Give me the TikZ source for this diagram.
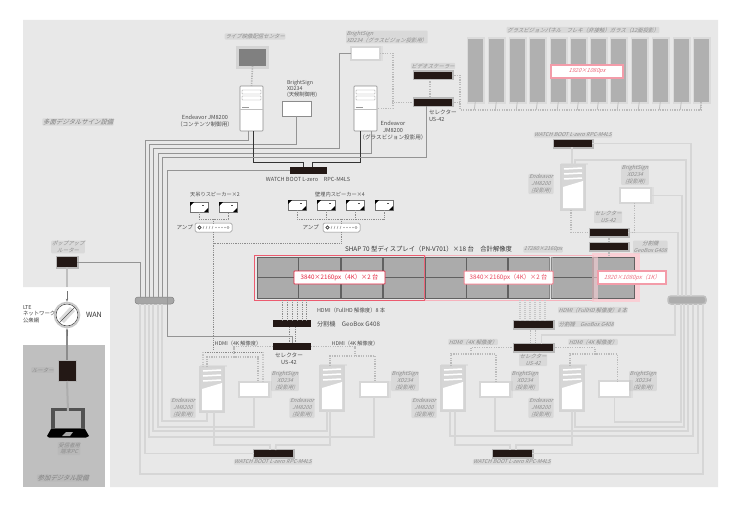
\documentclass[tikz,border=0pt]{standalone}
\usepackage{fontspec}
\setmainfont{Noto Sans CJK JP}
\newfontfamily\blurfont[FakeSlant=0.35]{Noto Sans CJK JP}
\usetikzlibrary{arrows.meta,calc}
\definecolor{bgc}{HTML}{E8E8E8}
\definecolor{inkc}{HTML}{231815}
\definecolor{redc}{HTML}{E5243F}
\definecolor{softc}{HTML}{D6D6D6}
\tikzset{
  txt/.style={inner sep=0pt,outer sep=0pt,align=center,text=black!70,font=\fontsize{5.6}{7}\selectfont},
  smear/.style={inner sep=.6pt,outer sep=0pt,align=center,text=black!45,fill=black!35,fill opacity=.22,text opacity=1,rounded corners=1pt,font=\blurfont\fontsize{5.4}{6.8}\selectfont},
  smearbig/.style={smear,font=\blurfont\fontsize{6.4}{7.5}\selectfont,text=black!50},
  linkA/.style={draw=black!42,line width=.55pt},
  linkB/.style={draw=softc,line width=1.7pt},
  blackl/.style={draw=black!80,line width=.7pt},
  dotl/.style={draw=black!45,line width=.6pt,dash pattern=on .9pt off .9pt},
  dashB/.style={draw=black!27,line width=1.6pt,dash pattern=on 1.2pt off 1.2pt},
  swbox/.style={fill=inkc,draw=none},
  srvA/.style={fill=white,draw=black!45,line width=.6pt,rounded corners=.8pt},
  srvB/.style={fill=softc,draw=black!17,line width=1.2pt},
  bsA/.style={fill=white,draw=black!45,line width=.6pt},
  bsB/.style={fill=white,draw=softc,line width=2pt},
  panelg/.style={fill=black!33,draw=black!62,line width=.5pt},
  glassp/.style={fill=black!31,draw=none},
  redlab/.style={fill=white,draw=redc,line width=.6pt,rounded corners=.6pt},
  redblur/.style={fill=white,draw=redc!45,line width=1.2pt},
}
\newcommand{\elem}[6][]{%
  \pgfmathsetmacro\elcx{((#3)+(#5))/2}%
  \pgfmathsetmacro\elcy{((#4)+(#6))/2}%
  \pgfmathsetmacro\elw{(#5)-(#3)}%
  \pgfmathsetmacro\elh{(#6)-(#4)}%
  \node[#1,minimum width=\elw pt,minimum height=\elh pt,inner sep=0pt,outer sep=0pt] (#2) at (\elcx,\elcy) {};}
% crisp tower
\newcommand{\towerA}[3]{%
  \elem[srvA]{#1}{#2}{#3}{(#2)+23}{(#3)+45}%
  \draw[black!40,line width=.4pt,rounded corners=.5pt] ([shift={(2,4)}]#1.north west) rectangle ++(19,4);
  \draw[black!40,line width=.4pt,rounded corners=.5pt] ([shift={(2,10)}]#1.north west) rectangle ++(19,4);
  \draw[black!40,line width=.4pt] ([shift={(2,21)}]#1.north west) -- ++(7,0);
  \draw[black!25,line width=.3pt] ([shift={(0,23)}]#1.north west) -- ++(23,0);}
% blurred tower
\newcommand{\towerB}[3]{%
  \fill[black!13] ({#2},{#3}) rectangle ++(27,-2);
  \elem[srvB]{#1}{#2}{#3}{(#2)+24}{(#3)+45}%
  \fill[white] ([shift={(2,22)}]#1.north west) -- ++(20,-6) -- ([shift={(22,43)}]#1.north west) -- ++(-20,0) -- cycle;
  \foreach \q in {4,9,14}{\draw[white,line width=1.5pt] ([shift={(3,\q)}]#1.north west) -- ++(18,-1);}}
% blurred BrightSign box
\newcommand{\bsBlur}[5]{%
  \fill[black!13] ({(#2)-1},{(#3)-1}) rectangle ({(#4)+3},{(#5)+1});
  \elem[bsB]{#1}{#2}{#3}{#4}{#5}}
% black box with halo
\newcommand{\swBlur}[5]{%
  \fill[black!28] ({(#2)-1},{(#3)-1.5}) rectangle ({(#4)+2},{(#5)+1.5});
  \elem[swbox]{#1}{#2}{#3}{#4}{#5}}
% speaker
\newcommand{\speaker}[3]{%
  \elem[fill=white,draw=black!55,line width=.6pt]{#1}{#2}{#3}{(#2)+18}{(#3)+10}%
  \fill[black] (#1.north west) -- ++(4,0) -- ++(-4,4) -- cycle;
  \fill[black] (#1.south east) -- ++(-4,0) -- ++(4,-4) -- cycle;
  \draw[black!70,line width=.6pt] ([shift={(-6,3.5)}]#1.north east) -- ++(2,0);}
% amplifier
\newcommand{\ampl}[3]{%
  \elem[fill=white,draw=black!45,line width=.5pt,rounded corners=1.5pt]{#1}{#2}{#3}{(#2)+37}{(#3)+9}%
  \draw[black!75,line width=.8pt] ([shift={(4.5,4.5)}]#1.north west) circle (1.6);
  \foreach \q in {9,12,15,18}{\draw[black!40,line width=.5pt] ([shift={(\q,3)}]#1.north west) -- ++(-1,3);}
  \foreach \q in {21,24,27,30}{\fill[black!55] ([shift={(\q,4.5)}]#1.north west) circle (.55);}
  \draw[black!50,line width=.3pt] ([shift={(33,4.5)}]#1.north west) circle (1.1);}
\begin{document}
\begin{tikzpicture}[x=1pt,y=-1pt]
\useasboundingbox (0,0) rectangle (738,508);
\fill[white] (0,0) rectangle (738,508);
\fill[bgc] (23,20) -- (718,20) -- (718,487) -- (110,487) -- (110,287) -- (23,287) -- cycle;
\fill[black!25] (23,345) rectangle (105,487);

% ---------- top left
\elem[fill=black!17,draw=none]{mon}{236}{46}{269}{69}
\elem[fill=black!50,draw=none]{moni}{239}{49}{266}{66}
\towerA{srvU}{240}{86}
\towerA{srvG}{354}{86}
\elem[bsA]{bsU}{282}{101}{311}{116}
\bsBlur{bsT}{351}{47}{380}{60}
\elem[swbox]{swT}{290}{167}{327}{174}
\elem[fill=black!35,draw=black!50,line width=.5pt,rounded corners=3pt]{pillL}{135}{297}{174}{304}
\elem[fill=black!32,draw=black!25,line width=1.5pt,rounded corners=3pt]{pillR}{668}{296}{706}{304}
\elem[swbox]{splL}{273}{320}{311}{327}
\elem[swbox]{selL}{273}{343}{311}{350}

% ---------- trunks, upper left
\draw[dashB,draw=black!30] (moni.south) -- (srvU.north);
\draw[linkA] ([xshift=-3]srvU.south) |- (145,140) -- ([xshift=-9.5]pillL.north);
\draw[linkA] (bsU.south) |- (149,144) -- ([xshift=-5.5]pillL.north);
\draw[linkA] (bsT.west) -| (339,148) -- (153,148) -- ([xshift=-1.5]pillL.north);
\draw[linkA] ([xshift=6]srvG.south) |- (158,153) -- ([xshift=3.5]pillL.north);
\draw[blackl] ([xshift=2]srvU.south) -- ++(0,31) -| ([xshift=-5]swT.north);
\draw[blackl] ([xshift=-5]srvG.south) -- ++(0,31) -| ([xshift=4]swT.north);

% ---------- top right selector / panels
\swBlur{selS}{414}{72}{452}{79}
\swBlur{selG}{414}{99}{452}{106}
\draw[linkA] (selG.south) ++(-7,0) -- (426,157) -- (162,157) -- ([xshift=7.5]pillL.north);
\draw[linkA] (swT.west) -- (167,170.5) -- (167,336) -| (selL.north);
\draw[dashB] (selS.south) ++(-3,0) -- ([xshift=-3]selG.north);
\draw[dashB] (selG.west) -- (392,102.5);
\draw[dashB] (bsT.east) -| (393,108.5) -- (srvG.east);
\foreach \i/\a in {1/468,2/489,3/510,4/530,5/551,6/571,7/591,8/611,9/632,10/653,11/674,12/694}{
  \fill[black!14] (\a-1,37) rectangle (\a+16.5,104);
  \elem[glassp]{gp\i}{\a}{39}{(\a)+14.5}{102}
  \draw[black!25,line width=.8pt] (gp\i.south) -- ++(-1,8);
}
\draw[dashB] (selS.east) -- (460,75.5) -- (460,110) -| (gp12.south);
\draw[dashB] (selG.east) -- (460,102.5);
\elem[redblur]{glab}{551}{65}{623}{78}
\node[smear,text=redc!70,fill=none,font=\blurfont\fontsize{5.6}{7}\selectfont] (glabt) at (glab) {1920×1080px};

% ---------- speakers and amps
\speaker{spA}{190}{202}\speaker{spB}{219}{202}
\speaker{spC}{288}{200}\speaker{spD}{317}{200}\speaker{spE}{346}{200}\speaker{spF}{375}{200}
\ampl{ampA}{195}{223}\ampl{ampB}{323}{223}
\draw[dotl] (spA.south) |- (213.5,219) -| (spB.south);
\draw[dotl] (213.5,219) -- (ampA.north);
\draw[dotl] (spC.south) |- (384,219) -- (spF.south);
\draw[dotl] (spD.south) -- (326,219);
\draw[dotl] (spE.south) -- (355,219);
\draw[dotl] (341.5,219) -- (ampB.north);
\draw[dotl] (ampA.south) -- (213.5,350);
\draw[dotl] (ampB.south) -- (341.5,243) -- (213.5,243);

% ---------- display wall
\fill[redc!22] (592,253) rectangle (640,302);
\draw[redc!35,line width=1pt] (425,255) rectangle (593,300);
\foreach \i/\a in {1/257,2/298.5,3/341,4/383,5/425.5,6/466,7/508,8/551,9/593}{
  \elem[panelg]{pu\i}{\a}{257.5}{(\a)+41.5}{277}
  \elem[panelg]{pd\i}{\a}{277}{(\a)+41.5}{298}
}
\fill[redc!22,opacity=.6] (592,253) rectangle (598,302);
\fill[black!20,opacity=.35] (549,257) rectangle (553,298);
\draw[redc!75,line width=.8pt] (254.5,255) rectangle (424,300);
\draw[redc!70,line width=.8pt] (424.8,255) -- (424.8,300);
\elem[redlab]{labA}{294}{271}{385}{284}
\node[txt,text=redc,font=\fontsize{6.2}{7}\selectfont] (labAt) at (labA) {3840×2160px（4K）×2 台};
\elem[redlab,draw=redc!55,line width=1pt]{labB}{464}{271}{553}{284}
\node[txt,text=redc!85,font=\fontsize{6.2}{7}\selectfont] (labBt) at (labB) {3840×2160px（4K）×2 台};
\elem[redblur]{labC}{598}{271}{666}{284}
\node[txt,text=redc!65,font=\blurfont\fontsize{5.8}{7}\selectfont] (labCt) at (labC) {1920×1080px（1K）};

% ---------- splitter + selector
\swBlur{splR}{514}{321}{553}{328}
\swBlur{selR}{514}{344}{553}{351}
\foreach \q/\x in {a/282,b/287,c/292,d/297,e/302,f/306}{
  \coordinate (sla\q) at (\x,300);
  \draw[dotl] (sla\q) -- (splL.north -| sla\q);
}
\draw[dotl] (289,327) -- (289,343);
\draw[dotl] (295,327) -- (295,343);
\foreach \q/\x in {a/520,b/525,c/530,d/535,e/540,f/545}{
  \coordinate (slb\q) at (\x,300);
  \draw[black!22,line width=1.2pt,dash pattern=on 1pt off 1pt] (slb\q) -- (splR.north -| slb\q);
}
\draw[dashB] (splR.south) ++(-3,0) -- ([xshift=-3]selR.north);
\draw[dashB] (splR.south) ++(2,0) -- ([xshift=2]selR.north);

% ---------- lower row
\towerB{sA}{200}{367}
\towerB{sC}{320}{366}
\towerB{sE}{441}{366}
\towerB{sG}{560}{366}
\bsBlur{bA}{239}{382}{269}{397}
\bsBlur{bD}{360}{382}{388}{397}
\bsBlur{bF}{480}{382}{510}{397}
\bsBlur{bH}{599}{381}{630}{397}
\swBlur{swL}{254}{450}{293}{457}
\swBlur{swR}{493}{450}{532}{457}

% ---------- selector dashes, lower row
\draw[dashB] (selL.west) -- (234,346.5) -- (234,357);
\draw[dotl] (203,352) -- (263,352);
\draw[dashB,draw=black!22] (203,352) -- (203,367);
\draw[dashB,draw=black!22] (263,352) -- (263,382);
\draw[dashB] ([xshift=-5]sA.north) |- (234,357) -| ([xshift=4]bA.north);
\draw[dashB] (selL.east) -- (355,346.5) -- (355,356);
\draw[dashB] ([xshift=-2]sC.north) |- (355,356) -| ([xshift=1]bD.north);
\draw[dashB] (selR.west) -- (471,347.5) -- (471,354);
\draw[dashB] ([xshift=-2]sE.north) |- (471,354) -| ([xshift=1]bF.north);
\draw[dashB] (selR.east) -- (595,347.5) -- (595,354);
\draw[dashB] ([xshift=-2]sG.north) |- (595,354) -| ([xshift=3]bH.north);

% ---------- lower bundles
\draw[linkB] ([xshift=-14.5]pillL.south) -- (140,474) -- (703,474) -- ([xshift=16]pillR.south);
\draw[linkB] ([xshift=-9.5]pillL.south) |- (swL.west);
\draw[linkB] ([xshift=-5.5]pillL.south) -- (149,437) -| (bD.south);
\draw[linkB] ([xshift=-1.5]pillL.south) -- (153,431) -| ([xshift=-5]sC.south);
\draw[linkB] ([xshift=3.5]pillL.south) -- (158,427) -| (bA.south);
\draw[linkB] ([xshift=7.5]pillL.south) -- (162,421) -| ([xshift=-5]sA.south);
\draw[linkB] ([xshift=2]sA.south) -- (214,445) -- (270,445) -- ([xshift=-3.5]swL.north);
\draw[linkB] ([xshift=-2]sC.south) -- (330,445) -- (276,445) -- ([xshift=2]swL.north);
\draw[linkB] ([xshift=2]sE.south) -- (455,445) -- (510,445) -- ([xshift=-2.5]swR.north);
\draw[linkB] (sG.south) -- (572,445) -- (516,445) -- ([xshift=3.5]swR.north);
\draw[linkB] (bH.south) |- (681,422) -- ([xshift=-6]pillR.south);
\draw[linkB] ([xshift=3]sG.south) |- (684,427) -- ([xshift=-3]pillR.south);
\draw[linkB] (bF.south) |- (688,431) -- ([xshift=1]pillR.south);
\draw[linkB] ([xshift=-3]sE.south) |- (693,436) -- ([xshift=6]pillR.south);
\draw[linkB] (swR.east) -| ([xshift=11]pillR.south);
\draw[linkB] (selR.north) ++(8,0) -- (541.5,335) -- (675,335) -- ([xshift=-12]pillR.south);

% ---------- right upper group
\swBlur{swU}{554}{140}{592}{147}
\towerB{sR}{561}{165}
\bsBlur{bR}{620}{188}{651}{203}
\swBlur{selRa}{590}{229}{628}{236}
\swBlur{selRb}{590}{243}{628}{250}
\draw[linkB] ([xshift=-1]swU.south) -- ([xshift=-1]swU.south |- sR.north);
\draw[linkB] (swU.east) -- (691,143.5) -- ([xshift=4]pillR.north);
\draw[linkB] ([xshift=2]sR.north) |- (686,160) -- ([xshift=-1]pillR.north);
\draw[linkB] (bR.east) -- (682,195.5) -- ([xshift=-5]pillR.north);
\draw[linkB] (selRa.east) -- (678,232.5) -- ([xshift=-9]pillR.north);
\draw[dashB] ([xshift=-2]sR.south) |- (selRa.west);
\draw[dashB] (bR.south) ++(-1,0) |- (selRa.east);
\draw[dashB] (selRa.south) -- (selRb.north);
\draw[dashB] (selRb.south) -- (609,255);

% ---------- WAN side
\swBlur{rtr}{57}{257}{77}{267}
\draw[linkA] (rtr.east) -- (140,262) -- ([xshift=-14.5]pillL.north);
\node[circle,fill=white,draw=black!22,line width=1.6pt,minimum size=25pt,inner sep=0pt] (wan) at (67,315) {};
\node[circle,draw=black!70,line width=.6pt,minimum size=22pt,inner sep=0pt] (wani) at (67,315) {};
\fill[black!14] (wani.center) ++(-8,4) -- ++(11,-12) -- ++(5,4) -- ++(-11,12) -- cycle;
\draw[black!70,line width=.6pt] (wani.south west) -- (wani.north east);
\elem[fill=inkc,draw=black!30,line width=.5pt]{mdm}{58}{360}{76}{381}
\draw[black!25,line width=1.4pt] (rtr.south) -- ++(0,20);
\draw[black!55,line width=.4pt,-{Stealth[length=3pt]}] (67,291) -- (wan.north);
\draw[black!45,line width=1.2pt] (mdm.north) -- (67,331);
\draw[black!55,line width=.4pt,-{Stealth[length=3pt]}] (67,336) -- (wan.south);
% laptop
\path[fill=black!68] (51,408) rectangle (85,430);
\elem[fill=black!27,draw=none]{lap}{55}{411}{81}{428}
\draw[black!32,line width=2pt] (mdm.south) -- (lap.north);
\fill[black] (51,429) -- (85,429) -- (89,436) -- (86,437.5) -- (49,437.5) -- (47,436) -- cycle;
\fill[black!35] (62,436) -- (66,432) -- (73,432) -- (70,436) -- cycle;

% ---------- readable labels
\node[txt,font=\fontsize{5.4}{6.4}\selectfont,align=left,anchor=west,text=black!75] (tLte) at (23,314) {LTE\\ネットワーク\\公衆網};
\node[txt,font=\fontsize{7.2}{8}\selectfont,anchor=west,text=black!80] (tWan) at (86,315) {WAN};
\node[txt,anchor=east,align=center] (tEnd1) at (233,121) {Endeavor JM8200\\（コンテンツ制御用）};
\node[txt,anchor=west,align=left,font=\fontsize{5.3}{6.4}\selectfont] (tBs1) at (287,89) {BrightSign\\XD234\\(天候制御用)};
\node[txt,align=center] (tEnd2) at (393,131) {Endeavor\\JM8200\\（グラスビジョン投影用）};
\node[txt] (tWb) at (308,179) {WATCH BOOT L-zero　RPC-M4LS};
\node[txt,font=\fontsize{5.2}{6}\selectfont] (tSpA) at (215,194.5) {天吊りスピーカー×2};
\node[txt,font=\fontsize{5.2}{6}\selectfont] (tSpB) at (340,194.5) {壁埋内スピーカー×4};
\node[txt,anchor=east] (tAmpA) at (193,227.5) {アンプ};
\node[txt,anchor=east] (tAmpB) at (319,227.5) {アンプ};
\node[txt,anchor=west,font=\fontsize{6.35}{7}\selectfont,text=black!80] (tTitle) at (345,249) {SHAP 70 型ディスプレイ（PN-V701）×18 台　合計解像度};
\node[smear] (tRes) at (543,249.5) {17280×2160px};
\node[txt,anchor=west,font=\fontsize{5.4}{6}\selectfont] (tHdmi) at (317,310) {HDMI（FullHD 解像度）8 本};
\node[txt,anchor=west,font=\fontsize{6.2}{7}\selectfont] (tGeo) at (317,324) {分割機　GeoBox G408};
\node[txt,align=center] (tSelL) at (289,358.5) {セレクター\\US-42};
\node[txt,align=left,anchor=west] (tSelG) at (429,116) {セレクター\\US-42};
\node[txt,font=\fontsize{5.2}{6}\selectfont] (tH1) at (238,344) {HDMI（4K 解像度）};
\node[txt,font=\fontsize{5.2}{6}\selectfont] (tH2) at (355,344) {HDMI（4K 解像度）};

% ---------- smeared labels
\node[smear] (bLive) at (255,36.5) {ライブ映像配信センター};
\node[smear,anchor=west,align=left] (bBsT) at (346,37) {BrightSign\\XD234（グラスビジョン投影用）};
\node[smear] (bSc) at (433,66) {ビデオスケーラー};
\node[smear] (bGlass) at (583,30) {グラスビジョンパネル　フレキ（非接触）ガラス（12面投影）};
\node[smearbig] (bTitle) at (78,122) {多面デジタルサイン設備};
\node[smear] (bRt) at (68,247) {ポップアップ\\ルーター};
\node[smear,anchor=east] (bMd) at (54,370) {ルーター};
\node[smear] (bPc) at (69,448.5) {受信者用\\端末PC};
\node[smearbig] (bFoot) at (63,478) {参加デジタル設備};
\node[smear] (bWb1) at (573,135) {WATCH BOOT L-zero RPC-M4LS};
\node[smear] (bEn1) at (541,184) {Endeavor\\JM8200\\(投影用)};
\node[smear] (bBs1) at (635,175) {BrightSign\\XD234\\(投影用)};
\node[smear] (bSe1) at (608,217) {セレクター\\US-42};
\node[smear,anchor=west] (bSp1) at (633,247) {分割機\\GeoBox G408};
\node[smear,anchor=west] (bHd) at (558,310) {HDMI（FullHD 解像度）8 本};
\node[smear,anchor=west] (bGe) at (558,324) {分割機　GeoBox G408};
\node[smear] (bH3) at (473,342) {HDMI（4K 解像度）};
\node[smear] (bH4) at (593,342) {HDMI（4K 解像度）};
\node[smear] (bSe2) at (533,360) {セレクター\\US-42};
\node[smear] (bEnA) at (183,408) {Endeavor\\JM8200\\(投影用)};
\node[smear] (bEnC) at (302,408) {Endeavor\\JM8200\\(投影用)};
\node[smear] (bEnE) at (424,408) {Endeavor\\JM8200\\(投影用)};
\node[smear] (bEnG) at (541,408) {Endeavor\\JM8200\\(投影用)};
\node[smear] (bBsA) at (285,381) {BrightSign\\XD234\\(投影用)};
\node[smear] (bBsD) at (405,381) {BrightSign\\XD234\\(投影用)};
\node[smear] (bBsF) at (525,381) {BrightSign\\XD234\\(投影用)};
\node[smear] (bBsH) at (643,381) {BrightSign\\XD234\\(投影用)};
\node[smear] (bWbL) at (273,462) {WATCH BOOT L-zero RPC-M4LS};
\node[smear] (bWbR) at (512,462) {WATCH BOOT L-zero RPC-M4LS};
\end{tikzpicture}
\end{document}
